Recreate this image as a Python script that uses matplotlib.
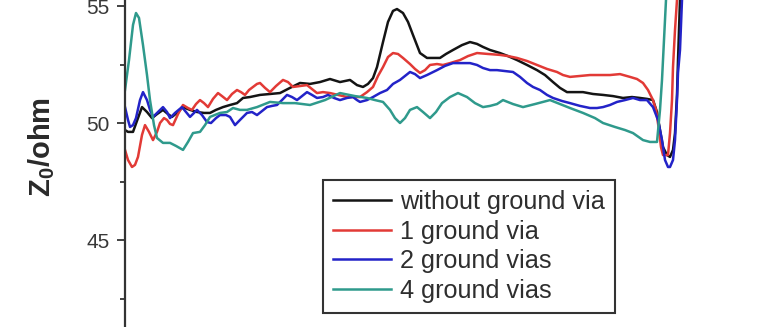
import matplotlib
matplotlib.use("Agg")
import matplotlib.pyplot as plt

# ---- data (x: arbitrary time units, y: impedance in ohm) ----
t_black = [0, 3, 8, 13, 17, 22, 27, 32, 38, 43, 47, 53, 58, 65, 72, 79, 85, 91, 98, 105, 112, 118, 125, 135,
           145, 155, 165, 175, 185, 195, 205, 215, 225, 232, 238, 243, 248, 252, 258, 263, 268, 272, 278, 283,
           288, 295, 302, 308, 315, 321, 328, 337, 345, 352, 358, 365, 375, 383, 392, 402, 412, 420, 428, 435,
           442, 450, 458, 468, 478, 488, 498, 507, 515, 522, 528, 532, 535, 538, 542, 545, 548, 550, 552, 553,
           555, 556]
z_black = [49.70, 49.62, 49.62, 50.21, 50.68, 50.47, 50.21, 50.38, 50.56, 50.38, 50.26, 50.47, 50.68, 50.56,
           50.47, 50.43, 50.43, 50.56, 50.68, 50.77, 50.85, 51.07, 51.11, 51.20, 51.24, 51.28, 51.50, 51.71,
           51.67, 51.75, 51.88, 51.75, 51.84, 51.62, 51.54, 51.67, 51.92, 52.39, 53.46, 54.32, 54.79, 54.87,
           54.70, 54.32, 53.76, 52.99, 52.78, 52.78, 52.78, 52.95, 53.12, 53.33, 53.46, 53.38, 53.25, 53.12,
           52.99, 52.86, 52.69, 52.48, 52.26, 52.05, 51.75, 51.50, 51.32, 51.32, 51.32, 51.24, 51.20, 51.15,
           51.07, 51.11, 51.07, 51.03, 50.98, 50.47, 49.70, 48.97, 48.63, 48.55, 48.85, 49.57, 51.20, 52.69,
           55.26, 56.54]

t_red = [0, 3, 7, 10, 13, 17, 20, 24, 28, 32, 35, 39, 42, 45, 48, 53, 58, 63, 67, 71, 75, 79, 83, 88, 93, 97,
         102, 107, 112, 116, 120, 124, 128, 132, 135, 140, 145, 151, 158, 163, 168, 175, 182, 187, 192, 198,
         205, 213, 222, 229, 235, 242, 248, 253, 258, 263, 268, 273, 278, 285, 290, 295, 300, 305, 312, 318,
         325, 335, 343, 352, 363, 375, 383, 392, 402, 412, 422, 432, 438, 445, 455, 465, 475, 485, 495, 505,
         512, 518, 523, 528, 531, 534, 536, 538, 541, 543, 545, 547, 548, 550, 552, 553]
z_red = [48.85, 48.42, 48.12, 48.21, 48.55, 49.49, 49.91, 49.62, 49.27, 49.62, 50.00, 50.21, 50.13, 49.96,
         49.91, 50.38, 50.77, 50.64, 50.56, 50.81, 50.98, 50.85, 50.68, 51.03, 51.28, 51.15, 50.98, 51.24,
         51.41, 51.32, 51.20, 51.41, 51.54, 51.67, 51.71, 51.50, 51.32, 51.58, 51.84, 51.75, 51.54, 51.58,
         51.62, 51.45, 51.28, 51.32, 51.28, 51.20, 51.11, 51.11, 51.11, 51.32, 51.54, 52.01, 52.39, 52.82,
         52.99, 52.95, 52.78, 52.52, 52.31, 52.14, 52.26, 52.48, 52.52, 52.48, 52.56, 52.69, 52.86, 52.99,
         52.95, 52.91, 52.86, 52.78, 52.65, 52.48, 52.31, 52.18, 52.05, 51.97, 52.01, 52.05, 52.05, 52.05,
         52.09, 51.97, 51.88, 51.71, 51.41, 50.98, 50.56, 49.70, 48.97, 48.63, 48.63, 48.63, 49.57, 50.98,
         52.39, 53.97, 55.26, 56.54]

t_blue = [0, 3, 5, 8, 11, 15, 18, 22, 25, 28, 33, 38, 42, 45, 50, 57, 61, 65, 69, 72, 77, 82, 86, 91, 95, 101,
          105, 110, 115, 122, 127, 132, 137, 142, 147, 152, 157, 162, 167, 172, 177, 182, 187, 192, 198, 203,
          209, 215, 222, 228, 232, 235, 242, 248, 255, 262, 268, 275, 280, 285, 290, 295, 302, 312, 320, 328,
          337, 345, 352, 358, 365, 372, 380, 388, 395, 402, 408, 415, 422, 428, 437, 445, 455, 465, 472, 478,
          485, 492, 500, 508, 515, 522, 528, 533, 537, 540, 543, 545, 548, 550, 552, 553, 555, 557, 558]
z_blue = [50.68, 50.13, 49.83, 49.91, 50.21, 50.98, 51.32, 50.98, 50.56, 50.26, 50.47, 50.68, 50.47, 50.21,
          50.43, 50.68, 50.47, 50.26, 50.43, 50.56, 50.34, 50.04, 50.00, 50.21, 50.34, 50.34, 50.26, 49.91,
          50.13, 50.43, 50.47, 50.34, 50.51, 50.68, 50.73, 50.77, 50.98, 51.20, 51.11, 50.98, 51.15, 51.32,
          51.20, 51.07, 51.11, 51.20, 51.07, 50.98, 51.07, 51.11, 50.98, 50.90, 50.98, 51.11, 51.28, 51.41,
          51.67, 51.84, 52.01, 52.18, 52.09, 51.92, 52.05, 52.26, 52.44, 52.56, 52.56, 52.56, 52.48, 52.35,
          52.26, 52.26, 52.22, 52.18, 51.97, 51.71, 51.54, 51.41, 51.20, 51.07, 50.94, 50.85, 50.73, 50.64,
          50.64, 50.68, 50.77, 50.90, 50.98, 51.07, 50.98, 50.98, 50.68, 50.13, 49.27, 48.42, 48.12, 48.12,
          48.42, 49.27, 50.98, 52.14, 53.12, 55.26, 56.54]

t_teal = [0, 4, 8, 11, 14, 18, 22, 25, 29, 32, 38, 45, 51, 58, 63, 68, 75, 80, 85, 95, 102, 108, 115, 122, 132,
          145, 158, 170, 185, 200, 215, 230, 242, 250, 258, 265, 270, 275, 280, 285, 292, 298, 305, 311, 317,
          325, 333, 342, 350, 358, 365, 372, 378, 388, 398, 410, 425, 435, 445, 458, 470, 478, 490, 500, 508,
          518, 525, 532, 535, 537, 539, 541, 543]
z_teal = [51.41, 52.69, 54.19, 54.70, 54.49, 53.33, 52.05, 50.98, 49.91, 49.36, 49.15, 49.15, 49.02, 48.85,
          49.19, 49.57, 49.62, 49.91, 50.26, 50.43, 50.47, 50.64, 50.56, 50.56, 50.68, 50.90, 50.85, 50.85,
          50.77, 50.98, 51.28, 51.15, 51.07, 50.98, 50.90, 50.56, 50.21, 50.00, 50.21, 50.56, 50.68, 50.47,
          50.21, 50.47, 50.85, 51.11, 51.28, 51.11, 50.85, 50.68, 50.73, 50.81, 50.98, 50.81, 50.68, 50.81,
          50.98, 50.81, 50.64, 50.43, 50.21, 50.00, 49.83, 49.70, 49.57, 49.27, 49.19, 49.19, 50.56, 51.84,
          53.55, 55.26, 56.54]

labels = ["without ground via", "1 ground via", "2 ground vias", "4 ground vias"]
colors = ["#141414", "#e23a36", "#2323c8", "#2f9a8c"]
ylabel = "Z$_0$/ohm"
yticks_major = [45, 50, 55]
yticks_minor = [42.5, 47.5, 52.5]

plt.rcParams["font.family"] = ["Liberation Sans", "DejaVu Sans"]
plt.rcParams["mathtext.fontset"] = "custom"
plt.rcParams["mathtext.rm"] = "Liberation Sans:bold"
plt.rcParams["mathtext.it"] = "Liberation Sans:bold"
plt.rcParams["mathtext.bf"] = "Liberation Sans:bold"

W, H = 767, 327
fig = plt.figure(figsize=(W / 100, H / 100), dpi=100)
ax = fig.add_axes([125 / W, 0, (W - 125) / W, 1])

series = [(t_black, z_black), (t_red, z_red), (t_blue, z_blue), (t_teal, z_teal)]
handles = []
for (t, z), c, lab in zip(series, colors, labels):
    h, = ax.plot(t, z, color=c, lw=1.8, label=lab, solid_joinstyle="round")
    handles.append(h)

ax.set_xlim(0, W - 125)
ax.set_ylim(50 - 204 / 23.4, 50 + 123 / 23.4)

for s in ["top", "right", "bottom"]:
    ax.spines[s].set_visible(False)
ax.spines["left"].set_color("#333333")
ax.spines["left"].set_linewidth(1.6)
ax.set_xticks([])
ax.set_yticks(yticks_major)
ax.set_yticks(yticks_minor, minor=True)
ax.tick_params(axis="y", which="major", length=6, width=1.3, color="#333333",
               labelsize=15, labelcolor="#383838", pad=5)
ax.tick_params(axis="y", which="minor", length=3.5, width=1.3, color="#333333")

fig.text(42 / W, 1 - 147 / H, ylabel, rotation=90, ha="center", va="center",
         fontsize=21, fontweight="bold", color="#2a2a2a")

leg = ax.legend(handles=handles, loc="upper left", bbox_to_anchor=(323 / W, 1 - 180 / H),
                bbox_transform=fig.transFigure, borderaxespad=0, fontsize=18.2,
                handlelength=2.3, handletextpad=0.33, labelspacing=0.22, borderpad=0.4,
                fancybox=False, framealpha=1, edgecolor="#333333")
leg.get_frame().set_linewidth(1.5)
for txt in leg.get_texts():
    txt.set_color("#2e2e2e")

fig.savefig("out.png", dpi=100)
